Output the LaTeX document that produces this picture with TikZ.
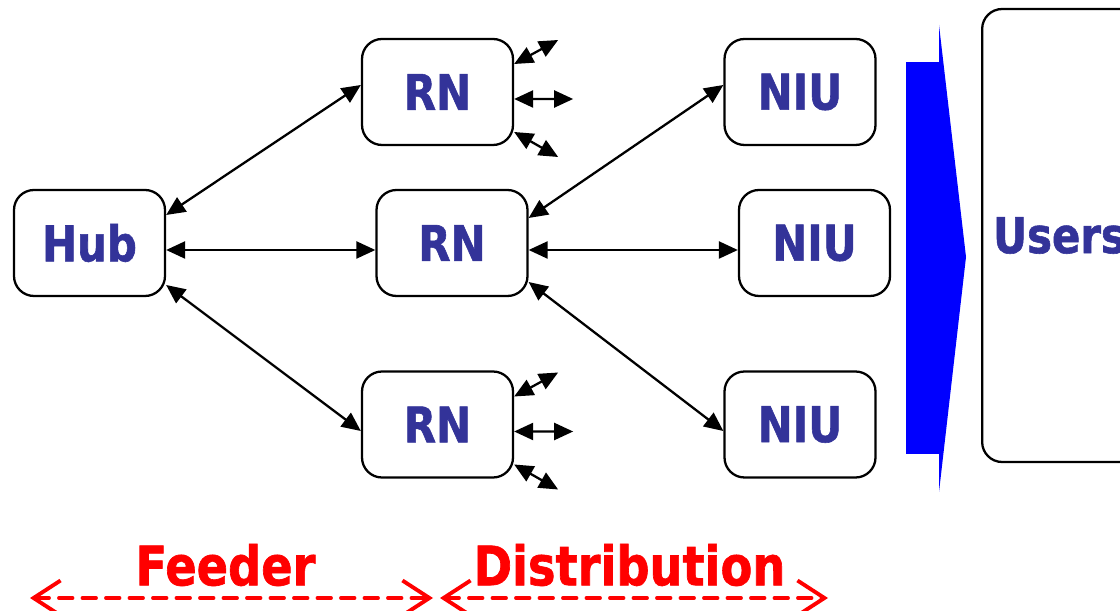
\documentclass[tikz,border=0pt]{standalone}
\usepackage{fontspec}
\newfontfamily\boxfont[FakeStretch=0.85,FakeBold=1.2]{DejaVu Sans Bold}
\usepackage{tikz}
\usetikzlibrary{arrows.meta}
\usepackage{xcolor}
\definecolor{navytext}{RGB}{51,51,153}

\begin{document}
\begin{tikzpicture}[>={Triangle[length=3.8mm,width=3.4mm]},line cap=round,
  box/.style={draw,line width=1.3pt,rounded corners=0.4cm,minimum width=3.02cm,minimum height=2.12cm,
    font=\boxfont\fontsize{28}{30}\selectfont,text=navytext},
  link/.style={<->,line width=1.3pt},
  span/.style={red,line width=2.2pt,dash pattern=on 0.27cm off 0.2cm,
    {Straight Barb[length=5.4mm,width=7mm]}-{Straight Barb[length=5.4mm,width=7mm]}},
  label/.style={red,font=\boxfont\fontsize{31}{33}\selectfont}]
\useasboundingbox (0,0) rectangle (22.4,-12.22);
% boxes
\node[box] (hub) at (1.79,-4.86) {Hub};
\node[box] (rnA) at (8.75,-1.84) {RN};
\node[box] (rnB) at (9.04,-4.86) {RN};
\node[box] (rnC) at (8.75,-8.49) {RN};
\node[box] (niuA) at (16.0,-1.84) {NIU};
\node[box] (niuB) at (16.29,-4.86) {NIU};
\node[box] (niuC) at (16.0,-8.49) {NIU};
\node[box,anchor=west,minimum width=6cm,minimum height=9.06cm,text width=5.56cm,
  inner xsep=0.22cm,align=left] (users) at (19.62,-4.71) {Users};
% feeder side
\draw[link] ([yshift=0.56cm]hub.east) -- ([yshift=0.14cm]rnA.west);
\draw[link] ([yshift=-0.14cm]hub.east) -- ([yshift=-0.14cm]rnB.west);
\draw[link] ([yshift=-0.84cm]hub.east) -- ([yshift=-0.13cm]rnC.west);
% distribution side
\draw[link] ([yshift=0.5cm]rnB.east) -- ([yshift=0.14cm]niuA.west);
\draw[link] ([yshift=-0.14cm]rnB.east) -- ([yshift=-0.14cm]niuB.west);
\draw[link] ([yshift=-0.78cm]rnB.east) -- ([yshift=-0.13cm]niuC.west);
% stubs on the outer RNs
\foreach \n in {rnA,rnC}{
  \path (\n.east) +(0.88,1.04) coordinate (\n-up) +(1.18,-0.14) coordinate (\n-mid)
    +(0.88,-1.3) coordinate (\n-dn);
  \draw[link] ([yshift=0.56cm]\n.east) -- (\n-up);
  \draw[link] ([yshift=-0.14cm]\n.east) -- (\n-mid);
  \draw[link] ([yshift=-0.8cm]\n.east) -- (\n-dn);
}
% big arrow to users
\fill[blue] (18.12,-1.24) rectangle (18.8,-9.08);
\fill[blue] (18.78,-0.5) -- (19.32,-5.14) -- (18.78,-9.84) -- cycle;
% spans
\coordinate (fdA) at (0.6,-11.96);
\coordinate (fdB) at (8.66,-11.96);
\coordinate (dsA) at (8.8,-11.96);
\coordinate (dsB) at (16.56,-11.96);
\draw[span] (fdA) -- (fdB);
\draw[span] (dsA) -- (dsB);
\node[label] (feeder) at (4.51,-11.3) {Feeder};
\node[label] (distr) at (12.59,-11.3) {Distribution};
\end{tikzpicture}
\end{document}
